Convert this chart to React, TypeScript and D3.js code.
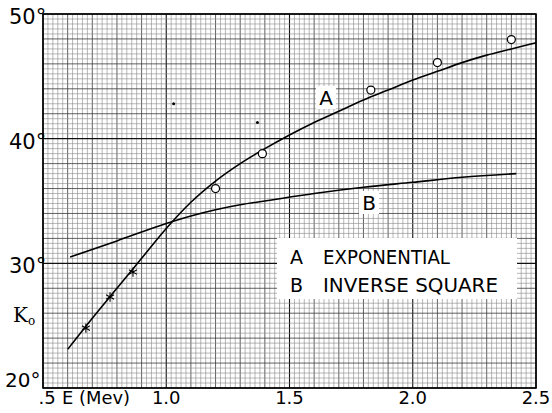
import React from "react";
import * as d3 from "d3";

// curve A (exponential)
const curveA_E = [0.6, 0.7, 0.8, 0.9, 1.0, 1.1, 1.2, 1.3, 1.4, 1.5, 1.6, 1.7, 1.8, 1.9, 2.0, 2.1, 2.2, 2.3, 2.4, 2.5];
const curveA_K = [23.1, 25.6, 28.0, 30.4, 32.8, 34.9, 36.6, 38.0, 39.2, 40.3, 41.3, 42.2, 43.1, 43.9, 44.7, 45.4, 46.1, 46.7, 47.2, 47.7];

// curve B (inverse square)
const curveB_E = [0.61, 0.8, 1.0, 1.1, 1.2, 1.3, 1.4, 1.6, 1.8, 2.0, 2.2, 2.42];
const curveB_K = [30.5, 31.8, 33.2, 33.8, 34.3, 34.7, 35.0, 35.6, 36.1, 36.5, 36.9, 37.2];

// measured points
const circleE = [1.2, 1.39, 1.83, 2.1, 2.4];
const circleK = [36.0, 38.8, 43.9, 46.1, 47.95];
const starE = [0.674, 0.772, 0.865];
const starK = [24.8, 27.3, 29.3];

// specks on the sheet
const speckE = [1.03, 1.37];
const speckK = [42.8, 41.3];

const xTicks = [0.5, 1.0, 1.5, 2.0, 2.5];
const xTickLabels = [".5", "1.0", "1.5", "2.0", "2.5"];
const yTicks = [50, 40, 30, 20];
const yTickLabels = ["50°", "40°", "30°", "20°"];

const legendKeys = ["A", "B"];
const legendNames = ["EXPONENTIAL", "INVERSE SQUARE"];

const W = 552;
const H = 413;

export default function App() {
  const x = d3.scaleLinear().domain([0.5, 2.5]).range([43, 536]);
  const y = d3.scaleLinear().domain([20, 50]).range([388, 14]);

  const minorX = d3.range(0, 101).map((i) => 0.5 + i * 0.02);
  const minorY = d3.range(0, 76).map((i) => 20 + i * 0.4);

  const line = d3
    .line<[number, number]>()
    .x((d) => x(d[0]))
    .y((d) => y(d[1]))
    .curve(d3.curveMonotoneX);

  const aPts = curveA_E.map((e, i) => [e, curveA_K[i]] as [number, number]);
  const bPts = curveB_E.map((e, i) => [e, curveB_K[i]] as [number, number]);

  const star = d3.symbol().type(d3.symbolAsterisk).size(60);

  // graph paper: fine lines, every 5th darker, every 25th black
  const gridStyle = (v: number, step: number, major: number) => {
    const r = (a: number, b: number) => Math.abs(a / b - Math.round(a / b)) < 1e-6;
    if (r(v, major)) return { stroke: "#111", width: 1.1 };
    if (r(v, step)) return { stroke: "#3a3a3a", width: 0.8 };
    return { stroke: "#888", width: 0.6 };
  };

  const font = "'DejaVu Sans', sans-serif";

  return (
    <svg width={W} height={H} style={{ position: "absolute", left: 0, top: 0, background: "#fff" }}>
      <rect width={W} height={H} fill="#fff" />
      <g>
        {minorX.map((v, i) => {
          const s = gridStyle(v, 0.1, 0.5);
          return <line key={"gx" + i} x1={x(v)} x2={x(v)} y1={y(20)} y2={y(50)} stroke={s.stroke} strokeWidth={s.width} />;
        })}
        {minorY.map((v, i) => {
          const s = gridStyle(v, 2, 10);
          return <line key={"gy" + i} y1={y(v)} y2={y(v)} x1={x(0.5)} x2={x(2.5)} stroke={s.stroke} strokeWidth={s.width} />;
        })}
        <rect x={x(0.5)} y={y(50)} width={x(2.5) - x(0.5)} height={y(20) - y(50)} fill="none" stroke="#000" strokeWidth={1.6} />
      </g>

      {/* white patches under labels */}
      <rect x={277} y={238} width={240} height={61} fill="#fff" />
      <rect x={316} y={86} width={20} height={23} fill="#fff" />
      <rect x={359} y={191} width={20} height={23} fill="#fff" />

      <path d={line(aPts) || ""} fill="none" stroke="#000" strokeWidth={1.6} />
      <path d={line(bPts) || ""} fill="none" stroke="#000" strokeWidth={1.6} />

      {circleE.map((e, i) => (
        <circle key={"c" + i} cx={x(e)} cy={y(circleK[i])} r={4} fill="#fff" stroke="#000" strokeWidth={1.2} />
      ))}
      {starE.map((e, i) => (
        <path key={"s" + i} d={star() || ""} transform={`translate(${x(e)},${y(starK[i])})`} fill="none" stroke="#000" strokeWidth={1.1} />
      ))}
      {speckE.map((e, i) => (
        <circle key={"sp" + i} cx={x(e)} cy={y(speckK[i])} r={1.5} fill="#000" />
      ))}

      <text x={326} y={105} fontFamily={font} fontSize={20} textAnchor="middle">A</text>
      <text x={369} y={210} fontFamily={font} fontSize={20} textAnchor="middle">B</text>

      {legendKeys.map((k, i) => (
        <g key={"lg" + i} fontFamily={font} fontSize={19}>
          <text x={290} y={264 + i * 28}>{k}</text>
          <text x={323} y={264 + i * 28} textLength={i === 0 ? 127 : 175} lengthAdjust="spacingAndGlyphs">{legendNames[i]}</text>
        </g>
      ))}

      {yTicks.map((t, i) => (
        <text key={"yt" + i} x={t === 20 ? 5 : 9} y={Math.min(y(t) + 10, 387)} fontFamily={font} fontSize={t === 20 ? 20 : 21}>
          {yTickLabels[i]}
        </text>
      ))}
      {xTicks.map((t, i) => (
        <text key={"xt" + i} x={t === 0.5 ? x(t) + 4 : x(t)} y={404} fontFamily={font} fontSize={18} textAnchor="middle">
          {xTickLabels[i]}
        </text>
      ))}
      <text x={62} y={404} fontFamily={font} fontSize={18} textLength={68} lengthAdjust="spacingAndGlyphs">E (Mev)</text>
      <text x={13} y={322} fontFamily="'DejaVu Serif', serif" fontSize={20}>
        K<tspan fontSize={12} dy={3}>o</tspan>
      </text>
    </svg>
  );
}
